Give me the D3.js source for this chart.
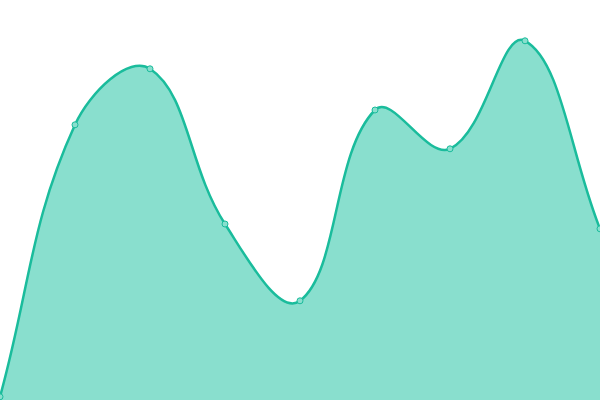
<!DOCTYPE html>
<html>
<head>
<meta charset="utf-8">
<script src="https://cdn.jsdelivr.net/npm/d3@7"></script>
<style>
  html, body { margin: 0; padding: 0; background: #fff; }
  svg { display: block; }
</style>
</head>
<body>
<div id="chart"></div>
<script>
const labels = [0, 1, 2, 3, 4, 5, 6, 7, 8];
const values = [0.8, 68.8, 82.8, 44, 24.8, 72.5, 62.8, 89.8, 42.8];

const W = 600, H = 400;
const svg = d3.select("#chart").append("svg")
  .attr("width", W).attr("height", H);

const x = d3.scaleLinear().domain([0, labels.length - 1]).range([0, W]);
const y = d3.scaleLinear().domain([0, 100]).range([H, 0]);

const data = labels.map((l, i) => ({ l, v: values[i] }));

// bezier spline with distance-weighted control points (tension 0.4)
function splineCurve(tension) {
  return (context) => {
    let line = NaN, pts = [];
    return {
      areaStart() { line = 0; },
      areaEnd() { line = NaN; },
      lineStart() { pts = []; },
      point(px, py) { pts.push([+px, +py]); },
      lineEnd() {
        const n = pts.length;
        if (n) {
          line ? context.lineTo(pts[0][0], pts[0][1]) : context.moveTo(pts[0][0], pts[0][1]);
          const ctrl = pts.map((p, i) => {
            const a = pts[i - 1] || p, b = pts[i + 1] || p;
            const d01 = Math.hypot(p[0] - a[0], p[1] - a[1]);
            const d12 = Math.hypot(b[0] - p[0], b[1] - p[1]);
            const s = d01 + d12 || 1;
            const fa = tension * d01 / s, fb = tension * d12 / s;
            return {
              prev: [p[0] - fa * (b[0] - a[0]), p[1] - fa * (b[1] - a[1])],
              next: [p[0] + fb * (b[0] - a[0]), p[1] + fb * (b[1] - a[1])],
            };
          });
          for (let i = 1; i < n; i++) {
            const c1 = ctrl[i - 1].next, c2 = ctrl[i].prev;
            context.bezierCurveTo(c1[0], c1[1], c2[0], c2[1], pts[i][0], pts[i][1]);
          }
        }
        if (line || (line !== 0 && n === 1)) context.closePath();
        line = 1 - line;
      },
    };
  };
}
const curve = splineCurve(0.4);

const area = d3.area()
  .x((d) => x(d.l)).y0(H).y1((d) => y(d.v))
  .curve(curve);
const line = d3.line()
  .x((d) => x(d.l)).y((d) => y(d.v))
  .curve(curve);

svg.append("path").datum(data)
  .attr("d", area)
  .attr("fill", "#89dfce");
svg.append("path").datum(data)
  .attr("d", line)
  .attr("fill", "none")
  .attr("stroke", "#1abc9c")
  .attr("stroke-width", 2.5);

svg.selectAll("circle").data(data).join("circle")
  .attr("cx", (d) => x(d.l))
  .attr("cy", (d) => y(d.v))
  .attr("r", 3)
  .attr("fill", "#89dfce")
  .attr("stroke", "#1abc9c")
  .attr("stroke-width", 1);
</script>
</body>
</html>
